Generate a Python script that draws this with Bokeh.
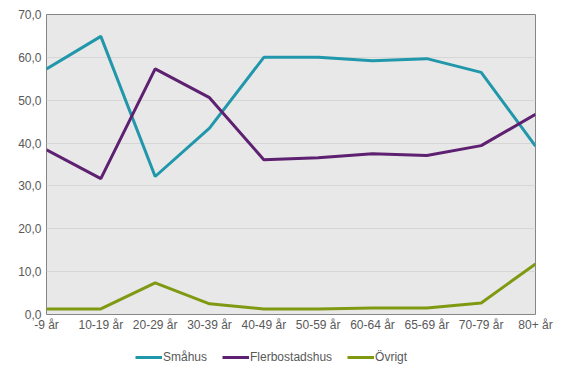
from bokeh.plotting import figure
from bokeh.layouts import column
from bokeh.models import FixedTicker, CustomJSTickFormatter, Legend, LegendItem, Range1d
from bokeh.embed import file_html
from bokeh.resources import INLINE

categories = ["-9 år", "10-19 år", "20-29 år", "30-39 år", "40-49 år",
              "50-59 år", "60-64 år", "65-69 år", "70-79 år", "80+ år"]
smahus = [57.3, 64.9, 32.2, 43.5, 60.0, 60.0, 59.2, 59.7, 56.5, 39.3]
flerbostadshus = [38.4, 31.7, 57.3, 50.6, 36.1, 36.6, 37.5, 37.1, 39.4, 46.7]
ovrigt = [1.3, 1.3, 7.4, 2.5, 1.3, 1.3, 1.5, 1.5, 2.7, 11.8]
y_ticks = [0, 10, 20, 30, 40, 50, 60, 70]

series_names = ["Småhus", "Flerbostadshus", "Övrigt"]
colors = ["#2097aa", "#5e2070", "#7f9a12"]

xs = list(range(len(categories)))
series = [smahus, flerbostadshus, ovrigt]
font = "Liberation Sans"

p = figure(width=565, height=337, output_backend="svg", toolbar_location=None,
           x_range=Range1d(0, len(categories) - 1), y_range=Range1d(0, 70),
           min_border_left=46, min_border_right=30, min_border_top=14, min_border_bottom=23)

p.background_fill_color = "#e8e8e8"
p.border_fill_color = "white"
p.outline_line_color = "#868686"
p.outline_line_width = 1

p.xgrid.grid_line_color = None
p.ygrid.grid_line_color = "#d6d6d6"
p.ygrid.grid_line_width = 1

p.xaxis.ticker = FixedTicker(ticks=xs)
p.xaxis.major_label_overrides = {i: c for i, c in enumerate(categories)}
p.yaxis.ticker = FixedTicker(ticks=y_ticks)
p.yaxis.formatter = CustomJSTickFormatter(code="return tick.toFixed(1).replace('.', ',');")
for ax in (p.xaxis[0], p.yaxis[0]):
    ax.axis_line_color = None
    ax.major_tick_line_color = None
    ax.minor_tick_line_color = None
    ax.major_tick_out = 0
    ax.major_tick_in = 0
    ax.minor_tick_out = 0
    ax.major_label_text_font = font
    ax.major_label_text_font_size = "12px"
    ax.major_label_text_color = "#595959"
p.xaxis.major_label_standoff = 3
p.yaxis.major_label_standoff = 5

for vals, c in zip(series, colors):
    p.line(xs, vals, line_color=c, line_width=3)

# Legend strip below the chart (series drawn out of view, only the legend shows)
lg = figure(width=565, height=40, output_backend="svg", toolbar_location=None,
            x_range=Range1d(0, 1), y_range=Range1d(500, 501),
            x_axis_location=None, y_axis_location=None,
            min_border_left=0, min_border_right=0, min_border_top=0, min_border_bottom=0)
lg.grid.visible = False
lg.outline_line_color = None
lg.background_fill_color = "white"
lg.border_fill_color = "white"
items = []
for n, vals, c in zip(series_names, series, colors):
    r = lg.line(xs, vals, line_color=c, line_width=3)
    items.append(LegendItem(label=n, renderers=[r]))
legend = Legend(items=items, orientation="horizontal", location=(89, 13),
                label_text_font=font, label_text_font_size="12px", label_text_color="#595959",
                glyph_width=27, glyph_height=12, label_height=12, label_standoff=1, spacing=15,
                border_line_color=None, background_fill_alpha=0, padding=2, margin=0)
lg.add_layout(legend, "center")

layout = column(p, lg, spacing=0)
open("out.html", "w").write(file_html(layout, INLINE))
